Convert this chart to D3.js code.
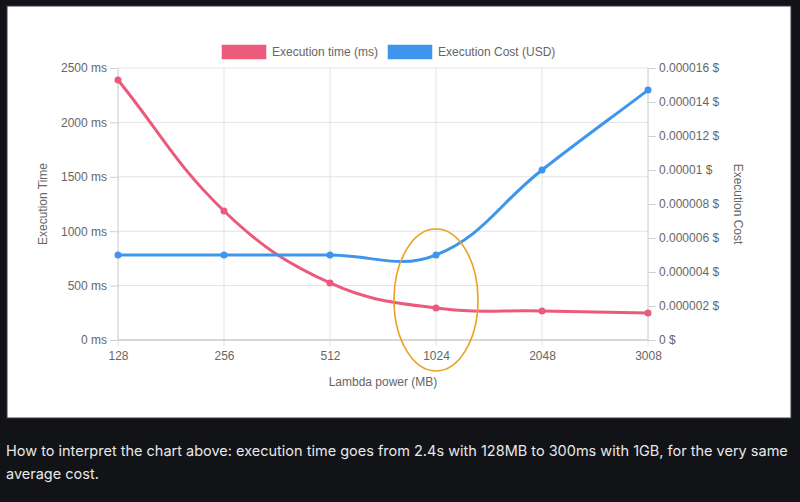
<!DOCTYPE html>
<html>
<head>
<meta charset="utf-8">
<script src="https://cdn.jsdelivr.net/npm/d3@7"></script>
<style>
  html, body { margin: 0; padding: 0; background: #121317; }
  svg { display: block; }
</style>
</head>
<body>
<div id="chart"></div>
<script>
// chart values
const memory = ['128', '256', '512', '1024', '2048', '3008'];
const execTime = [2390, 1186, 524, 294, 267, 248];
const execCost = [0.000005, 0.000005, 0.000005, 0.000005, 0.00001, 0.0000147];
const timeTicks = [0, 500, 1000, 1500, 2000, 2500];
const costTicks = [0, 0.000002, 0.000004, 0.000006, 0.000008, 0.00001, 0.000012, 0.000014, 0.000016];
const costLabels = ['0 $', '0.000002 $', '0.000004 $', '0.000006 $', '0.000008 $', '0.00001 $', '0.000012 $', '0.000014 $', '0.000016 $'];

const W = 800, H = 502;
const plotLeft = 118, plotRight = 648, plotTop = 68, plotBottom = 340;
const red = '#eb5a7a', blue = '#3e95ec';
const font = "'Liberation Sans', Arial, sans-serif";

const svg = d3.select('#chart').append('svg')
  .attr('width', W).attr('height', H);

svg.append('rect').attr('width', W).attr('height', H).attr('fill', '#121317');
svg.append('rect')
  .attr('x', 7).attr('y', 6).attr('width', 784).attr('height', 412)
  .attr('fill', '#fff').attr('stroke', '#3a3b40').attr('stroke-width', 1);

const x = d3.scalePoint().domain(memory).range([plotLeft, plotRight]);
const yTime = d3.scaleLinear().domain([0, 2500]).range([plotBottom, plotTop]);
const yCost = d3.scaleLinear().domain([0, 0.000016]).range([plotBottom, plotTop]);

// grid
const grid = svg.append('g').attr('stroke', '#e3e3e3').attr('stroke-width', 1);
grid.selectAll('.h').data(timeTicks).enter().append('line')
  .attr('x1', plotLeft).attr('x2', plotRight)
  .attr('y1', d => yTime(d)).attr('y2', d => yTime(d));
grid.selectAll('.v').data(memory).enter().append('line')
  .attr('x1', d => x(d)).attr('x2', d => x(d))
  .attr('y1', plotTop).attr('y2', plotBottom + 6);

// axes
function styleAxis(g) {
  g.select('.domain').remove();
  g.selectAll('line').attr('stroke', '#cfcfcf');
  g.selectAll('text').attr('fill', '#666').style('font-family', font).style('font-size', '12px');
}
svg.append('g')
  .attr('transform', `translate(${plotLeft},0)`)
  .call(d3.axisLeft(yTime).tickValues(timeTicks).tickSize(8).tickPadding(3).tickFormat(d => d + ' ms'))
  .call(styleAxis);
svg.append('g')
  .attr('transform', `translate(${plotRight},0)`)
  .call(d3.axisRight(yCost).tickValues(costTicks).tickSize(8).tickPadding(3).tickFormat((d, i) => costLabels[i]))
  .call(styleAxis);
svg.append('g')
  .attr('transform', `translate(0,${plotBottom})`)
  .call(d3.axisBottom(x).tickSize(0).tickPadding(11))
  .call(styleAxis);
svg.append('line')
  .attr('x1', plotLeft).attr('x2', plotRight).attr('y1', plotBottom).attr('y2', plotBottom)
  .attr('stroke', '#bdbdbd');
svg.append('line')
  .attr('x1', plotLeft).attr('x2', plotLeft).attr('y1', plotTop).attr('y2', plotBottom)
  .attr('stroke', '#d6d6d6');
svg.append('line')
  .attr('x1', plotRight).attr('x2', plotRight).attr('y1', plotTop).attr('y2', plotBottom)
  .attr('stroke', '#d6d6d6');

// axis titles
svg.append('text')
  .attr('transform', `translate(47,${(plotTop + plotBottom) / 2}) rotate(-90)`)
  .attr('text-anchor', 'middle').attr('fill', '#666')
  .style('font-family', font).style('font-size', '12px')
  .text('Execution Time');
svg.append('text')
  .attr('transform', `translate(734,${(plotTop + plotBottom) / 2}) rotate(90)`)
  .attr('text-anchor', 'middle').attr('fill', '#666')
  .style('font-family', font).style('font-size', '12px')
  .text('Execution Cost');
svg.append('text')
  .attr('x', (plotLeft + plotRight) / 2).attr('y', 386)
  .attr('text-anchor', 'middle').attr('fill', '#666')
  .style('font-family', font).style('font-size', '12px')
  .text('Lambda power (MB)');

// bezier like chart.js (tension 0.4)
function splinePath(pts) {
  const t = 0.4;
  const cps = pts.map((p, i) => {
    const prev = pts[Math.max(i - 1, 0)];
    const next = pts[Math.min(i + 1, pts.length - 1)];
    const d01 = Math.hypot(p[0] - prev[0], p[1] - prev[1]);
    const d12 = Math.hypot(next[0] - p[0], next[1] - p[1]);
    const s01 = d01 / (d01 + d12) || 0;
    const s12 = d12 / (d01 + d12) || 0;
    const fa = t * s01, fb = t * s12;
    const c1 = [p[0] - fa * (next[0] - prev[0]), p[1] - fa * (next[1] - prev[1])];
    const c2 = [p[0] + fb * (next[0] - prev[0]), p[1] + fb * (next[1] - prev[1])];
    c1[1] = Math.max(plotTop, Math.min(plotBottom, c1[1]));
    c2[1] = Math.max(plotTop, Math.min(plotBottom, c2[1]));
    return [c1, c2];
  });
  const path = d3.path();
  path.moveTo(pts[0][0], pts[0][1]);
  for (let i = 1; i < pts.length; i++) {
    path.bezierCurveTo(cps[i - 1][1][0], cps[i - 1][1][1], cps[i][0][0], cps[i][0][1], pts[i][0], pts[i][1]);
  }
  return path.toString();
}

function drawSeries(values, yScale, color) {
  const pts = values.map((v, i) => [x(memory[i]), yScale(v)]);
  svg.append('path')
    .attr('d', splinePath(pts))
    .attr('fill', 'none').attr('stroke', color).attr('stroke-width', 3);
  svg.selectAll(null).data(pts).enter().append('circle')
    .attr('cx', d => d[0]).attr('cy', d => d[1]).attr('r', 3.5)
    .attr('fill', color);
}
drawSeries(execTime, yTime, red);
drawSeries(execCost, yCost, blue);

// highlight around 1024
svg.append('ellipse')
  .attr('cx', x('1024')).attr('cy', 300).attr('rx', 42).attr('ry', 71)
  .attr('fill', 'none').attr('stroke', '#e9a11f').attr('stroke-width', 1.6);

// legend
const legend = [
  { label: 'Execution time (ms)', color: red, x: 222 },
  { label: 'Execution Cost (USD)', color: blue, x: 388 }
];
legend.forEach(l => {
  svg.append('rect')
    .attr('x', l.x).attr('y', 45).attr('width', 44).attr('height', 14)
    .attr('fill', l.color).attr('stroke', l.color).attr('stroke-opacity', 0.5);
  svg.append('text')
    .attr('x', l.x + 50).attr('y', 56).attr('fill', '#666')
    .style('font-family', font).style('font-size', '12px')
    .text(l.label);
});

// caption below the chart, shrink font until the first line fits
const caption = [
  'How to interpret the chart above: execution time goes from 2.4s with 128MB to 300ms with 1GB, for the very same',
  'average cost.'
];
const capLines = svg.selectAll('.caption').data(caption).enter().append('text')
  .attr('class', 'caption')
  .attr('x', 6).attr('y', (d, i) => 456 + i * 23)
  .attr('fill', '#e8e8e8')
  .style('font-family', "Inter, 'Noto Sans', sans-serif")
  .text(d => d);
let capSize = 15;
capLines.style('font-size', capSize + 'px');
while (capLines.node().getComputedTextLength() > 782 && capSize > 10) {
  capSize -= 0.25;
  capLines.style('font-size', capSize + 'px');
}
</script>
</body>
</html>
